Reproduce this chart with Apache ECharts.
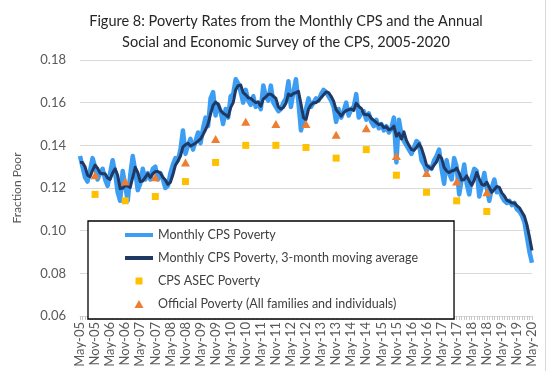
<!DOCTYPE html>
<html>
<head>
<meta charset="utf-8">
<script src="https://cdn.jsdelivr.net/npm/echarts@6/dist/echarts.min.js"></script>
<style>
html,body{margin:0;padding:0;background:#fff;}
#c{width:556px;height:371px;}
</style>
</head>
<body>
<div id="c"></div>
<script>
// Month categories May-05 .. May-20
const monthNames = ['Jan','Feb','Mar','Apr','May','Jun','Jul','Aug','Sep','Oct','Nov','Dec'];
const months = [];
for (let y = 2005, m = 4; y < 2020 || (y === 2020 && m <= 4); ) {
  months.push(monthNames[m] + '-' + String(y).slice(2));
  m++; if (m === 12) { m = 0; y++; }
}

// Monthly CPS poverty (fraction poor), May-05 .. May-20
const monthlyPoverty = [
  0.135,0.130,0.125,0.123,0.128,0.134,0.130,0.124,
  0.127,0.129,0.124,0.121,0.127,0.133,0.127,0.118,0.114,0.128,0.121,0.114,
  0.126,0.135,0.128,0.119,0.122,0.129,0.124,0.127,0.124,0.129,0.130,0.124,
  0.127,0.124,0.120,0.121,0.127,0.131,0.134,0.133,0.138,0.147,0.136,0.140,
  0.143,0.138,0.142,0.146,0.141,0.148,0.153,0.149,0.162,0.165,0.154,0.159,
  0.156,0.150,0.157,0.153,0.163,0.164,0.171,0.169,0.165,0.160,0.166,0.161,
  0.159,0.163,0.158,0.160,0.157,0.168,0.163,0.161,0.168,0.160,0.158,0.156,
  0.157,0.160,0.162,0.170,0.158,0.165,0.171,0.160,0.147,0.152,0.157,0.162,
  0.158,0.160,0.162,0.161,0.164,0.166,0.165,0.163,0.161,0.158,0.151,0.157,
  0.153,0.156,0.160,0.154,0.157,0.158,0.164,0.153,0.155,0.156,0.152,0.155,
  0.151,0.149,0.152,0.148,0.150,0.147,0.149,0.146,0.148,0.153,0.132,0.152,
  0.145,0.142,0.140,0.138,0.136,0.139,0.142,0.141,0.133,0.131,0.128,0.130,
  0.129,0.133,0.135,0.138,0.129,0.122,0.133,0.127,0.124,0.134,0.130,0.117,
  0.124,0.131,0.122,0.117,0.125,0.129,0.128,0.116,0.121,0.127,0.120,0.114,
  0.120,0.124,0.118,0.119,0.116,0.114,0.113,0.114,0.112,0.113,0.110,0.109,
  0.107,0.104,0.097,0.090,0.085
];

// Monthly CPS poverty, 3-month moving average
const movingAverage = [
  0.132,0.132,0.1300,0.1260,0.1253,0.1283,0.1307,0.1293,
  0.1270,0.1267,0.1267,0.1247,0.1240,0.1270,0.1290,0.1260,0.1197,0.1200,0.1210,0.1210,
  0.1203,0.1250,0.1297,0.1273,0.1230,0.1233,0.1250,0.1267,0.1250,0.1267,0.1277,0.1277,
  0.1270,0.1250,0.1237,0.1217,0.1227,0.1263,0.1307,0.1327,0.1350,0.1393,0.1403,0.1410,
  0.1397,0.1403,0.1410,0.1420,0.1430,0.1450,0.1473,0.1500,0.1547,0.1587,0.1603,0.1593,
  0.1563,0.1550,0.1543,0.1533,0.1577,0.1600,0.1660,0.1680,0.1683,0.1647,0.1637,0.1623,
  0.1620,0.1610,0.1600,0.1603,0.1583,0.1617,0.1627,0.1640,0.1640,0.1630,0.1620,0.1580,
  0.1570,0.1577,0.1597,0.1640,0.1633,0.1643,0.1647,0.1653,0.1593,0.1530,0.1520,0.1570,
  0.1590,0.1600,0.1600,0.1610,0.1623,0.1637,0.1650,0.1647,0.1630,0.1607,0.1567,0.1553,
  0.1537,0.1553,0.1563,0.1567,0.1570,0.1563,0.1597,0.1583,0.1573,0.1547,0.1543,0.1543,
  0.1527,0.1517,0.1507,0.1497,0.1500,0.1483,0.1487,0.1473,0.1477,0.1490,0.1443,0.1457,
  0.1430,0.1463,0.1423,0.1400,0.1380,0.1377,0.1390,0.1407,0.1387,0.1350,0.1307,0.1297,
  0.1290,0.1307,0.1323,0.1353,0.1340,0.1297,0.1280,0.1273,0.1280,0.1283,0.1293,0.1270,
  0.1237,0.1240,0.1257,0.1233,0.1213,0.1237,0.1273,0.1243,0.1217,0.1213,0.1227,0.1203,
  0.1180,0.1193,0.1207,0.1203,0.1177,0.1163,0.1143,0.1137,0.1130,0.1130,0.1117,0.1107,
  0.1087,0.1067,0.1027,0.0970,0.0907
];

// Annual estimates (plotted at November of each year)
const annualMonths = ['Nov-05','Nov-06','Nov-07','Nov-08','Nov-09','Nov-10','Nov-11','Nov-12','Nov-13','Nov-14','Nov-15','Nov-16','Nov-17','Nov-18'];
const asecPoverty = [0.117,0.114,0.116,0.123,0.132,0.140,0.140,0.139,0.134,0.138,0.126,0.118,0.114,0.109];
const officialPoverty = [0.126,0.123,0.125,0.132,0.143,0.151,0.150,0.150,0.145,0.148,0.135,0.127,0.123,0.118];

const yTicks = [0.06,0.08,0.10,0.12,0.14,0.16,0.18];

const FONT = 'Lato';
// legend icons drawn in a 28 x 8 box (leading moveTo points fix the box size)
const LINE_ICON = 'path://M0,2 L28,2 L28,6 L0,6 Z M0,0 M28,8';
const SQUARE_ICON = 'path://M0,0 M28,8 M10.5,0.5 L17.5,0.5 L17.5,7.5 L10.5,7.5 Z';
const TRIANGLE_ICON = 'path://M0,0 M28,8 M14,0 L18.5,8 L9.5,8 Z';
const chart = echarts.init(document.getElementById('c'), null, {renderer: 'canvas'});
chart.setOption({
  animation: false,
  backgroundColor: '#fff',
  title: {
    text: 'Figure 8: Poverty Rates from the Monthly CPS and the Annual\nSocial and Economic Survey of the CPS, 2005-2020',
    left: 281, top: 6, textAlign: 'center',
    textStyle: {fontFamily: FONT, fontSize: 14.5, fontWeight: 'normal', color: '#262626', lineHeight: 21}
  },
  grid: {left: 80, right: 24, top: 60, bottom: 55, containLabel: false},
  xAxis: {
    type: 'category', data: months, boundaryGap: false,
    axisLine: {show: true, lineStyle: {color: '#d9d9d9', width: 1}},
    axisTick: {show: true, interval: 0, length: 4, lineStyle: {color: '#c8c8c8'}},
    axisLabel: {interval: 5, rotate: 90, fontFamily: FONT, fontSize: 13, color: '#595959', margin: 6},
    splitLine: {show: false}
  },
  yAxis: {
    type: 'value', min: yTicks[0], max: yTicks[yTicks.length - 1], interval: 0.02,
    name: 'Fraction Poor', nameLocation: 'middle', nameGap: 57,
    nameTextStyle: {fontFamily: FONT, fontSize: 12, color: '#595959'},
    axisLine: {show: false}, axisTick: {show: false},
    axisLabel: {fontFamily: FONT, fontSize: 13, color: '#595959', margin: 14,
      formatter: v => v.toFixed(2)},
    splitLine: {lineStyle: {color: '#d9d9d9', width: 1}}
  },
  legend: {
    orient: 'vertical', left: 88, top: 221,
    padding: [7, 36, 8, 37],
    itemGap: 9, itemWidth: 28, itemHeight: 8, itemTextGap: 2,
    symbolKeepAspect: true,
    backgroundColor: '#fff', borderColor: '#000', borderWidth: 1.3,
    textStyle: {fontFamily: FONT, fontSize: 12.5, color: '#404040', lineHeight: 14},
    data: [
      {name: 'Monthly CPS Poverty', icon: LINE_ICON, itemStyle: {color: '#3C9DF2'}},
      {name: 'Monthly CPS Poverty, 3-month moving average', icon: LINE_ICON, itemStyle: {color: '#1F3864'}},
      {name: 'CPS ASEC Poverty', icon: SQUARE_ICON, itemStyle: {color: '#FFC000'}},
      {name: 'Official Poverty (All families and individuals)', icon: TRIANGLE_ICON, itemStyle: {color: '#ED7D31'}}
    ],
    selectedMode: false
  },
  series: [
    {
      name: 'Monthly CPS Poverty', type: 'line', data: monthlyPoverty,
      symbol: 'none', lineStyle: {color: '#3C9DF2', width: 4.5, join: 'round'},
      itemStyle: {color: '#3C9DF2'}, z: 2
    },
    {
      name: 'Monthly CPS Poverty, 3-month moving average', type: 'line', data: movingAverage,
      symbol: 'none', lineStyle: {color: '#1F3864', width: 3, join: 'round'},
      itemStyle: {color: '#1F3864'}, z: 3
    },
    {
      name: 'CPS ASEC Poverty', type: 'scatter',
      data: annualMonths.map((m, i) => [m, asecPoverty[i]]),
      symbol: 'rect', symbolSize: 7, itemStyle: {color: '#FFC000', opacity: 1}, z: 4
    },
    {
      name: 'Official Poverty (All families and individuals)', type: 'scatter',
      data: annualMonths.map((m, i) => [m, officialPoverty[i]]),
      symbol: 'triangle', symbolSize: [9, 8], itemStyle: {color: '#ED7D31', opacity: 1}, z: 5
    }
  ],
  graphic: [
    {type: 'line', shape: {x1: 545.5, y1: 0, x2: 545.5, y2: 371}, style: {stroke: '#d9d9d9', lineWidth: 1}, silent: true}
  ]
});
</script>
</body>
</html>
